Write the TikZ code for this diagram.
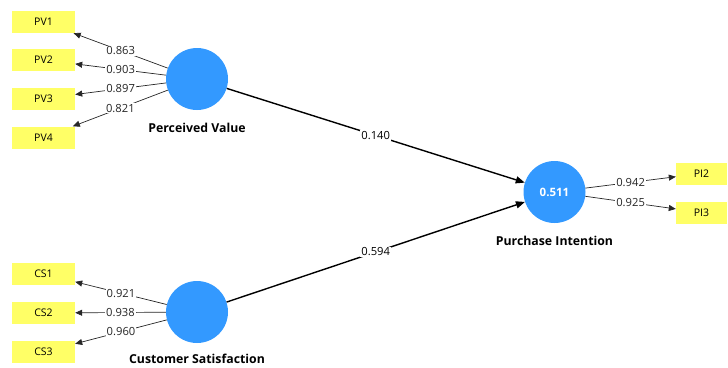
\documentclass[tikz,border=0pt]{standalone}
\usepackage{fontspec}
\setmainfont{Open Sans}
\usepackage{tikz}
\usetikzlibrary{arrows.meta}

\definecolor{lvblue}{RGB}{51,153,255}
\definecolor{mvyellow}{RGB}{255,255,102}

\begin{document}
\begin{tikzpicture}[x=1pt, y=-1pt,
    indicator/.style={fill=mvyellow, minimum width=63pt, minimum height=22pt, inner sep=0pt, font=\fontsize{10.5}{12}\selectfont},
    construct/.style={circle, fill=lvblue, minimum size=62pt, inner sep=0pt, text=white, font=\bfseries\fontsize{11.5}{13}\selectfont},
    title/.style={font=\bfseries\fontsize{12.3}{14}\selectfont},
    loading/.style={-{Triangle[length=7pt, width=6pt]}, line width=0.7pt, black!85},
    path/.style={-{Triangle[length=9pt, width=7pt]}, line width=1.4pt},
    coef/.style={midway, fill=white, inner sep=1pt, font=\fontsize{11.2}{13}\selectfont}]
        \useasboundingbox (0, 0) rectangle (728, 367);

        % --- Constructs ---
        \node[construct] (pv) at (197, 79) {};
        \node[title] (pvlabel) at (197, 128) {Perceived Value};

        \node[construct] (cs) at (197, 312) {};
        \node[title] (cslabel) at (197, 359) {Customer Satisfaction};

        \node[construct] (pi) at (554.5, 192) {0.511};
        \node[title] (pilabel) at (554.5, 241) {Purchase Intention};

        % --- Indicators ---
        \node[indicator] (pv1) at (43.5, 22) {PV1};
        \node[indicator] (pv2) at (43.5, 60) {PV2};
        \node[indicator] (pv3) at (43.5, 98.5) {PV3};
        \node[indicator] (pv4) at (43.5, 137.5) {PV4};

        \node[indicator] (cs1) at (43.5, 274) {CS1};
        \node[indicator] (cs2) at (43.5, 313) {CS2};
        \node[indicator] (cs3) at (43.5, 352) {CS3};

        \node[indicator, minimum width=51pt] (pi2) at (701.5, 173.5) {PI2};
        \node[indicator, minimum width=51pt] (pi3) at (701.5, 212.5) {PI3};

        % --- Outer loadings ---
        \draw[loading] (pv) -- (pv1) node[coef] {0.863};
        \draw[loading] (pv) -- (pv2) node[coef] {0.903};
        \draw[loading] (pv) -- (pv3) node[coef] {0.897};
        \draw[loading] (pv) -- (pv4) node[coef] {0.821};

        \draw[loading] (cs) -- (cs1) node[coef] {0.921};
        \draw[loading] (cs) -- (cs2) node[coef] {0.938};
        \draw[loading] (cs) -- (cs3) node[coef] {0.960};

        \draw[loading] (pi) -- (pi2) node[coef] {0.942};
        \draw[loading] (pi) -- (pi3) node[coef] {0.925};

        % --- Path coefficients ---
        \draw[path] (pv) -- (pi) node[coef] {0.140};
        \draw[path] (cs) -- (pi) node[coef] {0.594};

    \end{tikzpicture}
\end{document}
